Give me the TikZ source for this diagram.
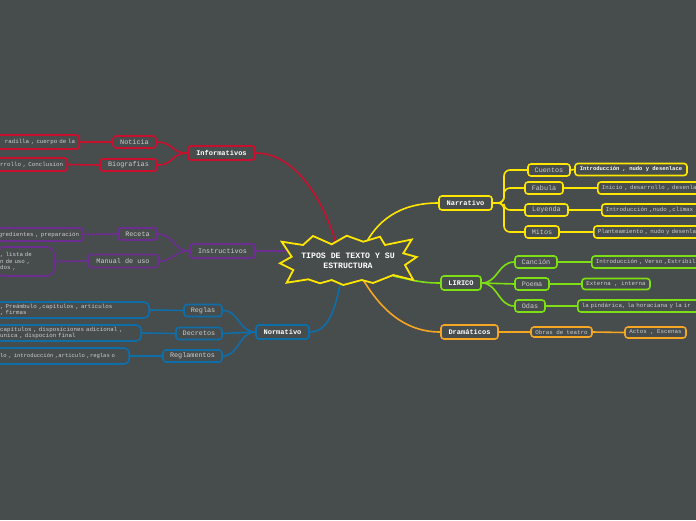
\documentclass[tikz,border=0pt]{standalone}
\usepackage{fontspec}
\newfontfamily\mono{Liberation Mono}
\pgfdeclarelayer{back}
\pgfdeclarelayer{links}
\pgfsetlayers{back,links,main}
\definecolor{bgc}{HTML}{474C4C}
\definecolor{cred}{HTML}{C8102E}
\definecolor{cpur}{HTML}{6C2E91}
\definecolor{cblu}{HTML}{0E6EAA}
\definecolor{cyel}{HTML}{FFE600}
\definecolor{cgrn}{HTML}{7EE012}
\definecolor{cora}{HTML}{F5A623}
\definecolor{txt}{HTML}{CFCFCF}
\tikzset{
 box/.style={draw, rounded corners=3pt, line width=1.6pt, fill=bgc, inner xsep=0pt, inner ysep=0pt, minimum height=12pt, text=txt, font=\mono\fontsize{6.8}{8}\selectfont},
 head/.style={box, minimum height=14pt, text=white, font=\mono\bfseries\fontsize{7}{8}\selectfont},
 leaf/.style={box, inner xsep=4pt, minimum height=12pt, font=\mono\fontsize{5.8}{6.8}\selectfont},
 link/.style={line width=1.6pt},
}
\begin{document}
\begin{tikzpicture}[x=1pt,y=-1pt]
\begin{pgfonlayer}{back}
\fill[bgc] (0,0) rectangle (696,520);
\end{pgfonlayer}
\useasboundingbox (0,0) rectangle (696,520);

% star endpoints
\coordinate (sR) at (337,247);
\coordinate (sP) at (295,251);
\coordinate (sB) at (341,280);
\coordinate (sY) at (364,247);
\coordinate (sG) at (393,276);
\coordinate (sO) at (362,278);

% Informativos
\node[head, draw=cred, minimum width=67pt] (inf) at (221.5,153) {Informativos};
\node[box, draw=cred, minimum width=43pt] (noti) at (134.5,142) {Noticia};
\node[box, draw=cred, minimum width=57pt] (bio) at (128.5,165) {Biografias};
\node[leaf, draw=cred, anchor=east, text width=80pt, align=right, minimum height=14pt] (notil) at (80,142) {radilla , cuerpo de la};
\node[leaf, draw=cred, anchor=east, text width=70pt, align=right, minimum height=13pt] (biol) at (68,164.5) {rrollo , Conclusion};

% Instructivos
\node[box, draw=cpur, minimum width=65pt, minimum height=14pt] (ins) at (222.5,251) {Instructivos};
\node[box, draw=cpur, minimum width=39pt] (rec) at (137.5,234) {Receta};
\node[box, draw=cpur, minimum width=70pt, minimum height=13pt] (man) at (123,261) {Manual de uso};
\node[leaf, draw=cpur, anchor=east, text width=86pt, align=right, minimum height=13pt] (recl) at (84,234.5) {gredientes , preparación};
\node[leaf, draw=cpur, anchor=east, text width=50pt, align=left, minimum height=29pt, rounded corners=8pt] (manl) at (55,261.5) {, lista de\\n de uso ,\\dos ,};

% Normativo
\node[head, draw=cblu, minimum width=53pt] (nor) at (282.5,332) {Normativo};
\node[box, draw=cblu, minimum width=38pt] (reg) at (203,310.5) {Reglas};
\node[box, draw=cblu, minimum width=46pt] (dec) at (199,333.5) {Decretos};
\node[box, draw=cblu, minimum width=59pt] (rgl) at (192.5,356) {Reglamentos};
\node[leaf, draw=cblu, anchor=east, text width=145pt, align=left, minimum height=16pt, rounded corners=5pt] (regl) at (150,310) {, Preámbulo ,capítulos , artículos\\, firmas};
\node[leaf, draw=cblu, anchor=east, text width=137pt, align=left, minimum height=16pt, rounded corners=5pt] (decl) at (142,333) {capítulos , disposiciones adicional ,\\unica , dispocion final};
\node[leaf, draw=cblu, anchor=east, text width=125pt, align=left, minimum height=16pt, rounded corners=5pt, font=\mono\fontsize{5.5}{6.6}\selectfont] (rgll) at (130,356) {lo , introducción ,articulo ,reglas o};

% Narrativo
\node[head, draw=cyel, minimum width=53pt] (nar) at (465.5,203) {Narrativo};
\coordinate (nj) at (504,203);
\node[box, draw=cyel, minimum width=42pt] (cue) at (549,170) {Cuentos};
\node[box, draw=cyel, minimum width=38pt] (fab) at (544,188) {Fabula};
\node[box, draw=cyel, minimum width=43pt] (ley) at (546.5,210) {Leyenda};
\node[box, draw=cyel, minimum width=34pt] (mit) at (542,232) {Mitos};
\node[leaf, draw=cyel, minimum width=112pt, text=white, font=\mono\bfseries\fontsize{5.5}{6.5}\selectfont] (cuel) at (631,169.5) {Introducción , nudo y desenlace};
\node[leaf, draw=cyel, anchor=west, text width=115pt, align=left] (fabl) at (597,188) {Inicio , desarrollo , desenla};
\node[leaf, draw=cyel, anchor=west, text width=115pt, align=left] (leyl) at (601,210) {Introducción ,nudo ,clímax};
\node[leaf, draw=cyel, anchor=west, text width=115pt, align=left] (mitl) at (593,232) {Planteamiento , nudo y desenla};

% LIRICO
\node[head, draw=cgrn, minimum width=40pt] (lir) at (461,283) {LIRICO};
\node[box, draw=cgrn, minimum width=42pt] (can) at (536,262) {Canción};
\node[box, draw=cgrn, minimum width=34pt] (poe) at (532,284) {Poema};
\node[box, draw=cgrn, minimum width=30pt] (oda) at (530,306) {Odas};
\node[leaf, draw=cgrn, anchor=west, text width=115pt, align=left] (canl) at (591,262) {Introducción , Verso ,Estribil};
\node[leaf, draw=cgrn, minimum width=68pt, minimum height=11pt] (poel) at (616,284) {Externa , interna};
\node[leaf, draw=cgrn, anchor=west, text width=130pt, align=left] (odal) at (577,306) {la pindárica, la horaciana y la ir};

% Dramaticos
\node[head, draw=cora, minimum width=57pt] (dra) at (469.5,332) {Dramáticos};
\node[leaf, draw=cora, minimum width=61pt, minimum height=10pt] (obr) at (561.5,332) {Obras de teatro};
\node[leaf, draw=cora, minimum width=61pt, minimum height=11pt] (act) at (655.5,332.5) {Actos , Escenas};

\begin{pgfonlayer}{links}
\draw[link, cred] (inf.east) .. controls +(40,0) and +(-12,-45) .. (sR);
\draw[link, cred] (inf.west) .. controls +(-16,0) and +(16,0) .. (noti.east);
\draw[link, cred] (inf.west) .. controls +(-16,0) and +(16,0) .. (bio.east);
\draw[link, cred] (noti.west) -- (notil.east);
\draw[link, cred] (bio.west) -- (biol.east);

\draw[link, cpur] (ins.east) -- (sP);
\draw[link, cpur] (ins.west) .. controls +(-16,0) and +(16,0) .. (rec.east);
\draw[link, cpur] (ins.west) .. controls +(-16,0) and +(16,0) .. (man.east);
\draw[link, cpur] (rec.west) -- (recl.east);
\draw[link, cpur] (man.west) -- (manl.east);

\draw[link, cblu] (nor.east) .. controls +(20,0) and +(-5,25) .. (sB);
\draw[link, cblu] (nor.west) .. controls +(-16,0) and +(16,0) .. (reg.east);
\draw[link, cblu] (nor.west) .. controls +(-16,0) and +(16,0) .. (dec.east);
\draw[link, cblu] (nor.west) .. controls +(-16,0) and +(16,0) .. (rgl.east);
\draw[link, cblu] (reg.west) -- (regl.east);
\draw[link, cblu] (dec.west) -- (decl.east);
\draw[link, cblu] (rgl.west) -- (rgll.east);

\draw[link, cyel] (nar.west) .. controls +(-40,0) and +(12,-25) .. (sY);
\draw[link, cyel, rounded corners=6pt] (nar.east) -- (nj) |- (cue.west);
\draw[link, cyel, rounded corners=6pt] (nar.east) -- (nj) |- (fab.west);
\draw[link, cyel, rounded corners=6pt] (nar.east) -- (nj) |- (ley.west);
\draw[link, cyel, rounded corners=6pt] (nar.east) -- (nj) |- (mit.west);
\draw[link, cyel] (cue.east) -- (cuel.west);
\draw[link, cyel] (fab.east) -- (fabl.west);
\draw[link, cyel] (ley.east) -- (leyl.west);
\draw[link, cyel] (mit.east) -- (mitl.west);

\draw[link, cgrn] (lir.west) .. controls +(-20,0) and +(20,4) .. (sG);
\draw[link, cgrn] (lir.east) .. controls +(16,0) and +(-16,0) .. (can.west);
\draw[link, cgrn] (lir.east) .. controls +(16,0) and +(-16,0) .. (poe.west);
\draw[link, cgrn] (lir.east) .. controls +(16,0) and +(-16,0) .. (oda.west);
\draw[link, cgrn] (can.east) -- (canl.west);
\draw[link, cgrn] (poe.east) -- (poel.west);
\draw[link, cgrn] (oda.east) -- (odal.west);

\draw[link, cora] (dra.west) .. controls +(-40,0) and +(15,25) .. (sO);
\draw[link, cora] (dra.east) -- (obr.west);
\draw[link, cora] (obr.east) -- (act.west);
\end{pgfonlayer}

% central star
\draw[cyel, line width=1.8pt, fill=bgc, line join=miter]
 (281.7,241.7) -- (303,245) -- (313,236) -- (331.7,244.3) -- (346.7,235.7) -- (363.3,241.7)
 -- (380,236.7) -- (385,245) -- (411.7,239.5) -- (403.3,253.3) -- (416.7,257) -- (405,265)
 -- (413.3,280) -- (393.3,275) -- (373,283) -- (361.7,280) -- (343.3,285) -- (331.7,280)
 -- (320,283.3) -- (308.3,279.3) -- (286.7,282.7) -- (293.3,270) -- (280,263.3) -- (291.7,256.7) -- cycle;
\node[text=white, align=center, font=\mono\bfseries\fontsize{8.2}{10}\selectfont] (ctr) at (348,260.5) {TIPOS DE TEXTO Y SU\\ESTRUCTURA};
\end{tikzpicture}
\end{document}
